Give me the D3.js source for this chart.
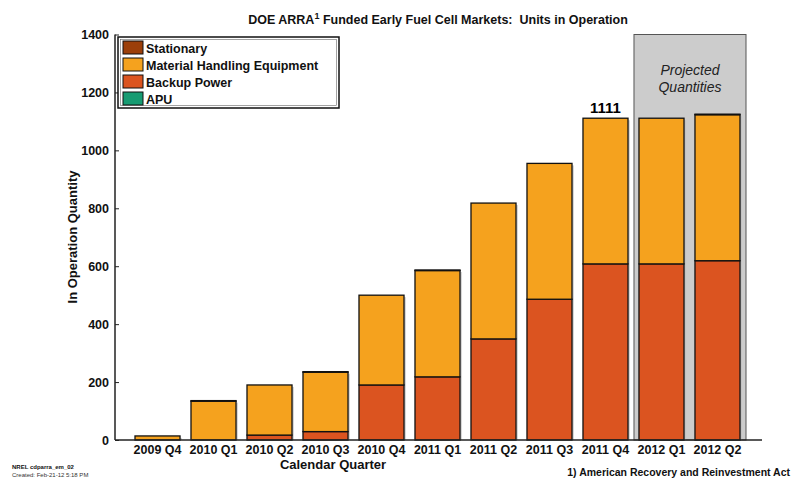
<!DOCTYPE html>
<html><head><meta charset="utf-8">
<script src="https://cdn.jsdelivr.net/npm/d3@7"></script>
<style>
body{margin:0;background:#fff;}
text{font-family:"Liberation Sans",Arial,sans-serif;}
</style></head>
<body>
<svg id="c" width="799" height="480"></svg>
<script>
const quarters = ["2009 Q4","2010 Q1","2010 Q2","2010 Q3","2010 Q4","2011 Q1","2011 Q2","2011 Q3","2011 Q4","2012 Q1","2012 Q2"];
const apu = [0,0,0,0,0,0,0,0,0,0,0];
const backupPower = [0,0,17,29,190,218,349,486,608,608,619];
const materialHandling = [14,134,173,205,310,367,469,469,503,503,504];
const stationary = [0,2,0,2,0,2,0,0,0,0,2];
const yTicks = [0,200,400,600,800,1000,1200,1400];
const projected = ["2012 Q1","2012 Q2"];
const seriesNames = ["APU","Backup Power","Material Handling Equipment","Stationary"];
const colors = {"APU":"#179b72","Backup Power":"#db5420","Material Handling Equipment":"#f5a21e","Stationary":"#9c3f0a"};
const legendOrder = ["Stationary","Material Handling Equipment","Backup Power","APU"];

const svg = d3.select("#c");
const x = d3.scaleBand().domain(quarters).range([107,768]).paddingInner(0.196).paddingOuter(0.5);
const y = d3.scaleLinear().domain([0,1400]).range([440,34.5]);
const left = 115, right = 762;

// projected box
const p0 = x(projected[0]) - 5, p1 = x(projected[projected.length-1]) + x.bandwidth() + 6;
svg.append("rect").attr("x",p0).attr("y",y(1400)).attr("width",p1-p0).attr("height",y(0)-y(1400))
  .attr("fill","#cccccc").attr("stroke","#555").attr("stroke-width",1);
svg.append("text").attr("x",(p0+p1)/2).attr("y",75).attr("text-anchor","middle")
  .attr("font-style","italic").attr("font-size",14).attr("fill","#222").text("Projected");
svg.append("text").attr("x",(p0+p1)/2).attr("y",92).attr("text-anchor","middle")
  .attr("font-style","italic").attr("font-size",14).attr("fill","#222").text("Quantities");

// stack
const rows = quarters.map((q,i)=>({q, "APU":apu[i], "Backup Power":backupPower[i], "Material Handling Equipment":materialHandling[i], "Stationary":stationary[i]}));
const stack = d3.stack().keys(seriesNames)(rows);

// shadows
const totals = rows.map((r,i)=>apu[i]+backupPower[i]+materialHandling[i]+stationary[i]);
svg.append("g").selectAll("rect").data(rows).join("rect")
  .attr("x",d=>x(d.q)+2).attr("y",(d,i)=>y(totals[i])+2)
  .attr("width",x.bandwidth()).attr("height",(d,i)=>y(0)-y(totals[i])-2)
  .attr("fill","#bdbdbd").attr("opacity",0.6);

const g = svg.append("g");
stack.forEach(s=>{
  g.append("g").selectAll("rect").data(s.filter(d=>d[1]-d[0]>0)).join("rect")
    .attr("x",d=>x(d.data.q)).attr("y",d=>y(d[1]))
    .attr("width",x.bandwidth()).attr("height",d=>y(d[0])-y(d[1]))
    .attr("fill",colors[s.key]).attr("stroke","#111").attr("stroke-width",1.3);
});

// value label
const idx = quarters.indexOf("2011 Q4");
svg.append("text").attr("x",x("2011 Q4")+x.bandwidth()/2).attr("y",y(totals[idx])-5)
  .attr("text-anchor","middle").attr("font-weight","bold").attr("font-size",15).text(d3.format("d")(totals[idx]));

// axes
svg.append("line").attr("x1",left).attr("x2",left).attr("y1",y(1400)).attr("y2",y(0)).attr("stroke","#222").attr("stroke-width",1.5);
svg.append("line").attr("x1",left).attr("x2",right).attr("y1",y(0)).attr("y2",y(0)).attr("stroke","#222").attr("stroke-width",1.5);
const ya = svg.append("g").attr("transform",`translate(${left},0)`)
  .call(d3.axisLeft(y).tickValues(yTicks).tickSize(-4).tickPadding(6).tickFormat(d3.format("d")));
ya.select(".domain").remove();
ya.selectAll("line").attr("stroke","#222");
ya.selectAll("text").attr("font-weight","bold").attr("font-size",12.5).attr("fill","#111").attr("font-family","Liberation Sans, Arial, sans-serif");
const xa = svg.append("g").attr("transform",`translate(0,${y(0)})`)
  .call(d3.axisBottom(x).tickSize(0).tickPadding(5));
xa.select(".domain").remove();
xa.selectAll("text").attr("font-weight","bold").attr("font-size",12.5).attr("fill","#111").attr("font-family","Liberation Sans, Arial, sans-serif");

// titles
const t = svg.append("text").attr("x",438).attr("y",24).attr("text-anchor","middle").attr("font-weight","bold").attr("font-size",12.5).attr("fill","#111");
t.append("tspan").text("DOE ARRA");
t.append("tspan").attr("font-size",9).attr("dy",-5).text("1");
t.append("tspan").attr("dy",5).text(" Funded Early Fuel Cell Markets:\u00a0 Units in Operation");
svg.append("text").attr("transform","translate(77,237) rotate(-90)").attr("text-anchor","middle")
  .attr("font-weight","bold").attr("font-size",13).attr("fill","#111").text("In Operation Quantity");
svg.append("text").attr("x",333).attr("y",469).attr("text-anchor","middle")
  .attr("font-weight","bold").attr("font-size",13).attr("fill","#111").text("Calendar Quarter");
svg.append("text").attr("x",790).attr("y",476).attr("text-anchor","end")
  .attr("font-weight","bold").attr("font-size",10.5).attr("fill","#111").text("1) American Recovery and Reinvestment Act");
svg.append("text").attr("x",12).attr("y",469).attr("font-weight","bold").attr("font-size",6).attr("fill","#111").text("NREL cdparra_em_02");
svg.append("text").attr("x",12).attr("y",477).attr("font-size",6).attr("fill","#333").text("Created: Feb-21-12  5:18 PM");

// legend
const lg = svg.append("g");
lg.append("rect").attr("x",118).attr("y",37).attr("width",221).attr("height",71).attr("fill","#fff").attr("stroke","#111").attr("stroke-width",1.5);
lg.append("rect").attr("x",120.5).attr("y",39.5).attr("width",216).attr("height",66).attr("fill","none").attr("stroke","#666").attr("stroke-width",0.6);
legendOrder.forEach((k,i)=>{
  const yy = 41 + i*17;
  lg.append("rect").attr("x",123).attr("y",yy).attr("width",20).attr("height",13).attr("fill",colors[k]).attr("stroke","#111").attr("stroke-width",1);
  lg.append("text").attr("x",146).attr("y",yy+11.5).attr("font-weight","bold").attr("font-size",12.5).attr("fill","#111").text(k);
});
</script>
</body></html>
